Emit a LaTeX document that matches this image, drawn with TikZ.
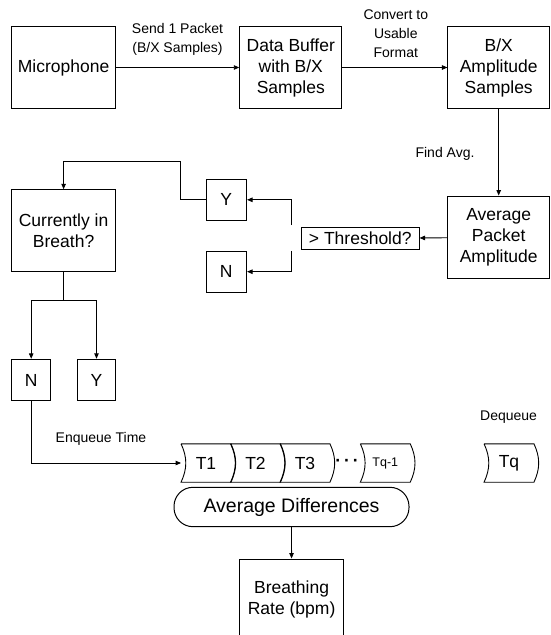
\documentclass[tikz,border=0pt]{standalone}
\usepackage{fontspec}
\setmainfont{Liberation Sans}
\usepackage{tikz}
\usetikzlibrary{arrows.meta,calc}

\tikzset{
	block/.style={draw, line width=1pt, inner sep=0pt, align=center, font=\fontsize{17.5}{21}\selectfont},
	tag/.style={inner sep=0pt, align=center, font=\fontsize{14}{19}\selectfont},
	cell/.style={inner sep=0pt, minimum width=49.5pt, minimum height=38pt, font=\fontsize{17.5}{21}\selectfont},
	flow/.style={line width=0.9pt, -{Triangle[length=5.5pt,width=4.5pt]}},
}

\begin{document}
\begin{tikzpicture}[x=1pt, y=1pt]
	\useasboundingbox (0,0) rectangle (550,-635);

	% top row
	\node[block, minimum width=104pt, minimum height=82pt] (mic) at (63.6,-67.5) {Microphone};
	\node[block, minimum width=102pt, minimum height=82pt] (buf) at (290.8,-67.5) {Data Buffer\\with B/X\\Samples};
	\node[block, minimum width=101.5pt, minimum height=82pt] (amp) at (498.7,-67.5) {B/X\\Amplitude\\Samples};

	\draw[flow] (mic) -- (buf);
	\draw[flow] (buf) -- (amp);
	\node[tag] (send) at (177.5,-39.5) {Send 1 Packet\\(B/X Samples)};
	\node[tag] (conv) at (395.8,-34) {Convert to\\Usable\\Format};

	% average and threshold
	\node[block, minimum width=101.5pt, minimum height=82.5pt] (avg) at (498.7,-237.3) {Average\\Packet\\Amplitude};
	\draw[flow] (amp) -- (avg);
	\node[tag] (find) at (445,-154) {Find Avg.};

	\node[block, minimum width=117.5pt, minimum height=21.7pt] (thr) at (360.3,-238.5) {> Threshold?};
	\draw[flow] (avg) -- (thr);

	\node[block, minimum width=40.5pt, minimum height=41pt] (yes1) at (226.3,-199.8) {Y};
	\node[block, minimum width=40.5pt, minimum height=41pt] (no1) at (226.3,-271.7) {N};
	\coordinate (sy) at ($(thr.north west)+(-10,2)$);
	\coordinate (sn) at ($(thr.south west)+(-10,-1)$);
	\draw[flow] (sy) |- (yes1);
	\draw[flow] (sn) |- (no1);

	% in breath?
	\node[block, minimum width=104pt, minimum height=81.7pt] (breath) at (63.6,-230.6) {Currently in\\Breath?};
	\draw[flow] (yes1.west) -- ++(-25,0) |- ($(breath.north)+(0,28)$) -- (breath.north);

	\node[block, minimum width=39.3pt, minimum height=41.4pt] (no2) at (31.2,-380) {N};
	\node[block, minimum width=38.5pt, minimum height=41.4pt] (yes2) at (96.5,-380) {Y};
	\draw[line width=0.9pt] (breath.south) -- ++(0,-28) coordinate (split);
	\draw[flow] (split) -| (no2.north);
	\draw[flow] (split) -| (yes2.north);

	% queue of times
	\node[cell] (t1) at (206,-463) {T1};
	\node[cell] (t2) at (255.5,-463) {T2};
	\node[cell] (t3) at (305,-463) {T3};
	\node[cell, font=\fontsize{12.5}{15}\selectfont] (tq1) at (385.3,-463) {Tq-1};
	\node[cell] (tq) at (509,-463) {Tq};
	\foreach \c in {t1,t2,t3,tq1,tq}
		\draw[line width=0.9pt] (\c.north west) -- (\c.north east) to[bend left=25] (\c.south east)
			-- (\c.south west) to[bend right=25] (\c.north west);
	\node[inner sep=0pt, font=\fontsize{17.5}{21}\selectfont\bfseries] (dots) at (347,-463) {·\kern3pt·\kern3pt·};

	\draw[flow] (no2.south) |- (t1.west);
	\node[tag] (enq) at (101,-439) {Enqueue Time};
	\node[tag] (deq) at (508.6,-417) {Dequeue};

	% result
	\node[draw, line width=1pt, rounded corners=19pt, minimum width=235pt, minimum height=39.4pt, inner sep=0pt,
		font=\fontsize{19.5}{23}\selectfont] (avgd) at (291.5,-507) {Average Differences};
	\node[block, minimum width=104.7pt, minimum height=80pt] (rate) at (291.6,-599) {Breathing\\Rate (bpm)};
	\draw[flow] (avgd) -- (rate);

\end{tikzpicture}
\end{document}
